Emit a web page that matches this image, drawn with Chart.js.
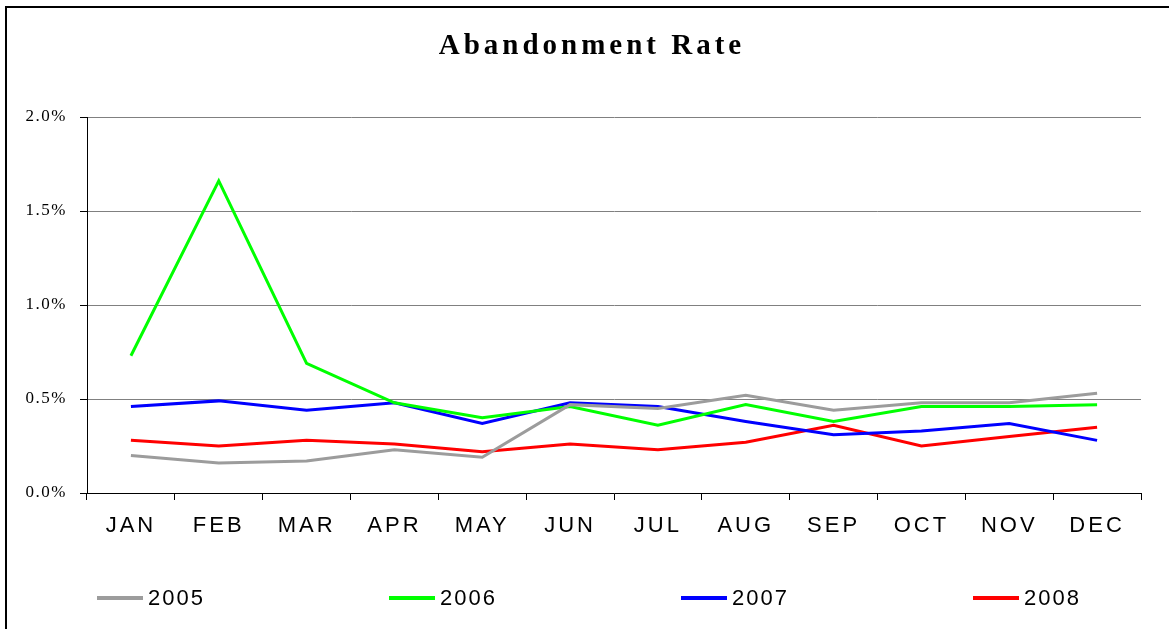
<!DOCTYPE html>
<html>
<head>
<meta charset="utf-8">
<title>Abandonment Rate</title>
<script src="https://cdn.jsdelivr.net/npm/chart.js@4.4.0/dist/chart.umd.min.js"></script>
<style>
  html, body { margin: 0; padding: 0; background: #fff; }
  #wrap { position: relative; width: 1169px; height: 629px; overflow: hidden; }
  #frame { position: absolute; left: 5px; top: 6px; width: 1200px; height: 700px;
           border-left: 2px solid #000; border-top: 2px solid #000; }
  #chart { position: absolute; left: 0; top: 0; }
  #legend { position: absolute; left: 97px; top: 585px; display: flex;
            font-family: "Liberation Sans", Arial, sans-serif; font-size: 22px; letter-spacing: 2px; color: #000; }
  .item { width: 292px; display: flex; align-items: center; }
  .swatch { width: 46px; height: 4px; margin-right: 5px; }
</style>
</head>
<body>
<div id="wrap">
  <div id="frame"></div>
  <canvas id="chart" width="1169" height="629"></canvas>
  <div id="legend"></div>
</div>
<script>
const months = ['JAN', 'FEB', 'MAR', 'APR', 'MAY', 'JUN', 'JUL', 'AUG', 'SEP', 'OCT', 'NOV', 'DEC'];
const years = ['2005', '2006', '2007', '2008'];

// abandonment rate in percent
const rate2005 = [0.20, 0.16, 0.17, 0.23, 0.19, 0.47, 0.45, 0.52, 0.44, 0.48, 0.48, 0.53];
const rate2006 = [0.73, 1.66, 0.69, 0.48, 0.40, 0.46, 0.36, 0.47, 0.38, 0.46, 0.46, 0.47];
const rate2007 = [0.46, 0.49, 0.44, 0.48, 0.37, 0.48, 0.46, 0.38, 0.31, 0.33, 0.37, 0.28];
const rate2008 = [0.28, 0.25, 0.28, 0.26, 0.22, 0.26, 0.23, 0.27, 0.36, 0.25, 0.30, 0.35];

const yTicks = [0, 0.5, 1.0, 1.5, 2.0];
const colors = ['#9c9c9c', '#00ff00', '#0000ff', '#ff0000'];

function spaced(fn, spacing) {
  return function(...args) {
    const c = this.ctx;
    c.save();
    c.letterSpacing = spacing;
    fn.apply(this, args);
    c.restore();
  };
}

// title drawn by hand so it can be letter-spaced like the original
const titlePlugin = {
  id: 'spacedTitle',
  afterLayout(chart) {
    const x = chart.scales.x, y = chart.scales.y;
    if (!x._spaced) { x.drawLabels = spaced(x.drawLabels, '3px'); x._spaced = true; }
    if (!y._spaced) { y.drawLabels = spaced(y.drawLabels, '1.5px'); y._spaced = true; }
  },
  afterDraw(chart) {
    const c = chart.ctx;
    c.save();
    c.letterSpacing = '4px';
    c.font = 'bold 29px "Liberation Serif", "Times New Roman", serif';
    c.fillStyle = '#000';
    c.textAlign = 'center';
    c.textBaseline = 'middle';
    c.fillText('Abandonment Rate', 592, 47);
    c.restore();
  }
};

const ctx = document.getElementById('chart').getContext('2d');
const chart = new Chart(ctx, {
  type: 'line',
  data: {
    labels: months,
    datasets: [rate2005, rate2006, rate2007, rate2008].map((d, i) => ({
      label: years[i],
      data: d,
      borderColor: colors[i],
      backgroundColor: colors[i],
      borderWidth: 3,
      pointRadius: 0,
      tension: 0,
      fill: false
    }))
  },
  options: {
    responsive: false,
    animation: false,
    layout: { padding: { top: 117, right: 28, left: 0, bottom: 0 } },
    plugins: {
      legend: { display: false },
      title: { display: false },
      tooltip: { enabled: false }
    },
    scales: {
      x: {
        offset: true,
        afterFit(s) { s.height = 136; },
        grid: {
          offset: true,
          drawOnChartArea: true,
          color: c => c.index === months.length ? '#808080' : 'rgba(0,0,0,0)',
          tickColor: c => c.index === months.length ? '#808080' : '#000',
          tickLength: 7,
          lineWidth: 1
        },
        border: { color: '#000', width: 1 },
        ticks: {
          color: '#000',
          padding: 13,
          font: { family: '"Liberation Sans", Arial, sans-serif', size: 22 }
        }
      },
      y: {
        min: 0,
        max: 2,
        afterFit(s) { s.width = 87; },
        afterBuildTicks(s) { s.ticks = yTicks.map(v => ({ value: v })); },
        grid: { color: '#808080', tickColor: '#000', tickLength: 7, lineWidth: 1 },
        border: { color: '#000', width: 1 },
        ticks: {
          color: '#000',
          padding: 13,
          font: { family: '"Liberation Serif", "Times New Roman", serif', size: 17 },
          callback: v => v.toFixed(1) + '%'
        }
      }
    }
  },
  plugins: [titlePlugin]
});

// legend built from the chart's datasets
const legend = document.getElementById('legend');
chart.data.datasets.forEach(ds => {
  const item = document.createElement('div');
  item.className = 'item';
  const sw = document.createElement('span');
  sw.className = 'swatch';
  sw.style.background = ds.borderColor;
  const txt = document.createElement('span');
  txt.textContent = ds.label;
  item.appendChild(sw);
  item.appendChild(txt);
  legend.appendChild(item);
});
</script>
</body>
</html>
